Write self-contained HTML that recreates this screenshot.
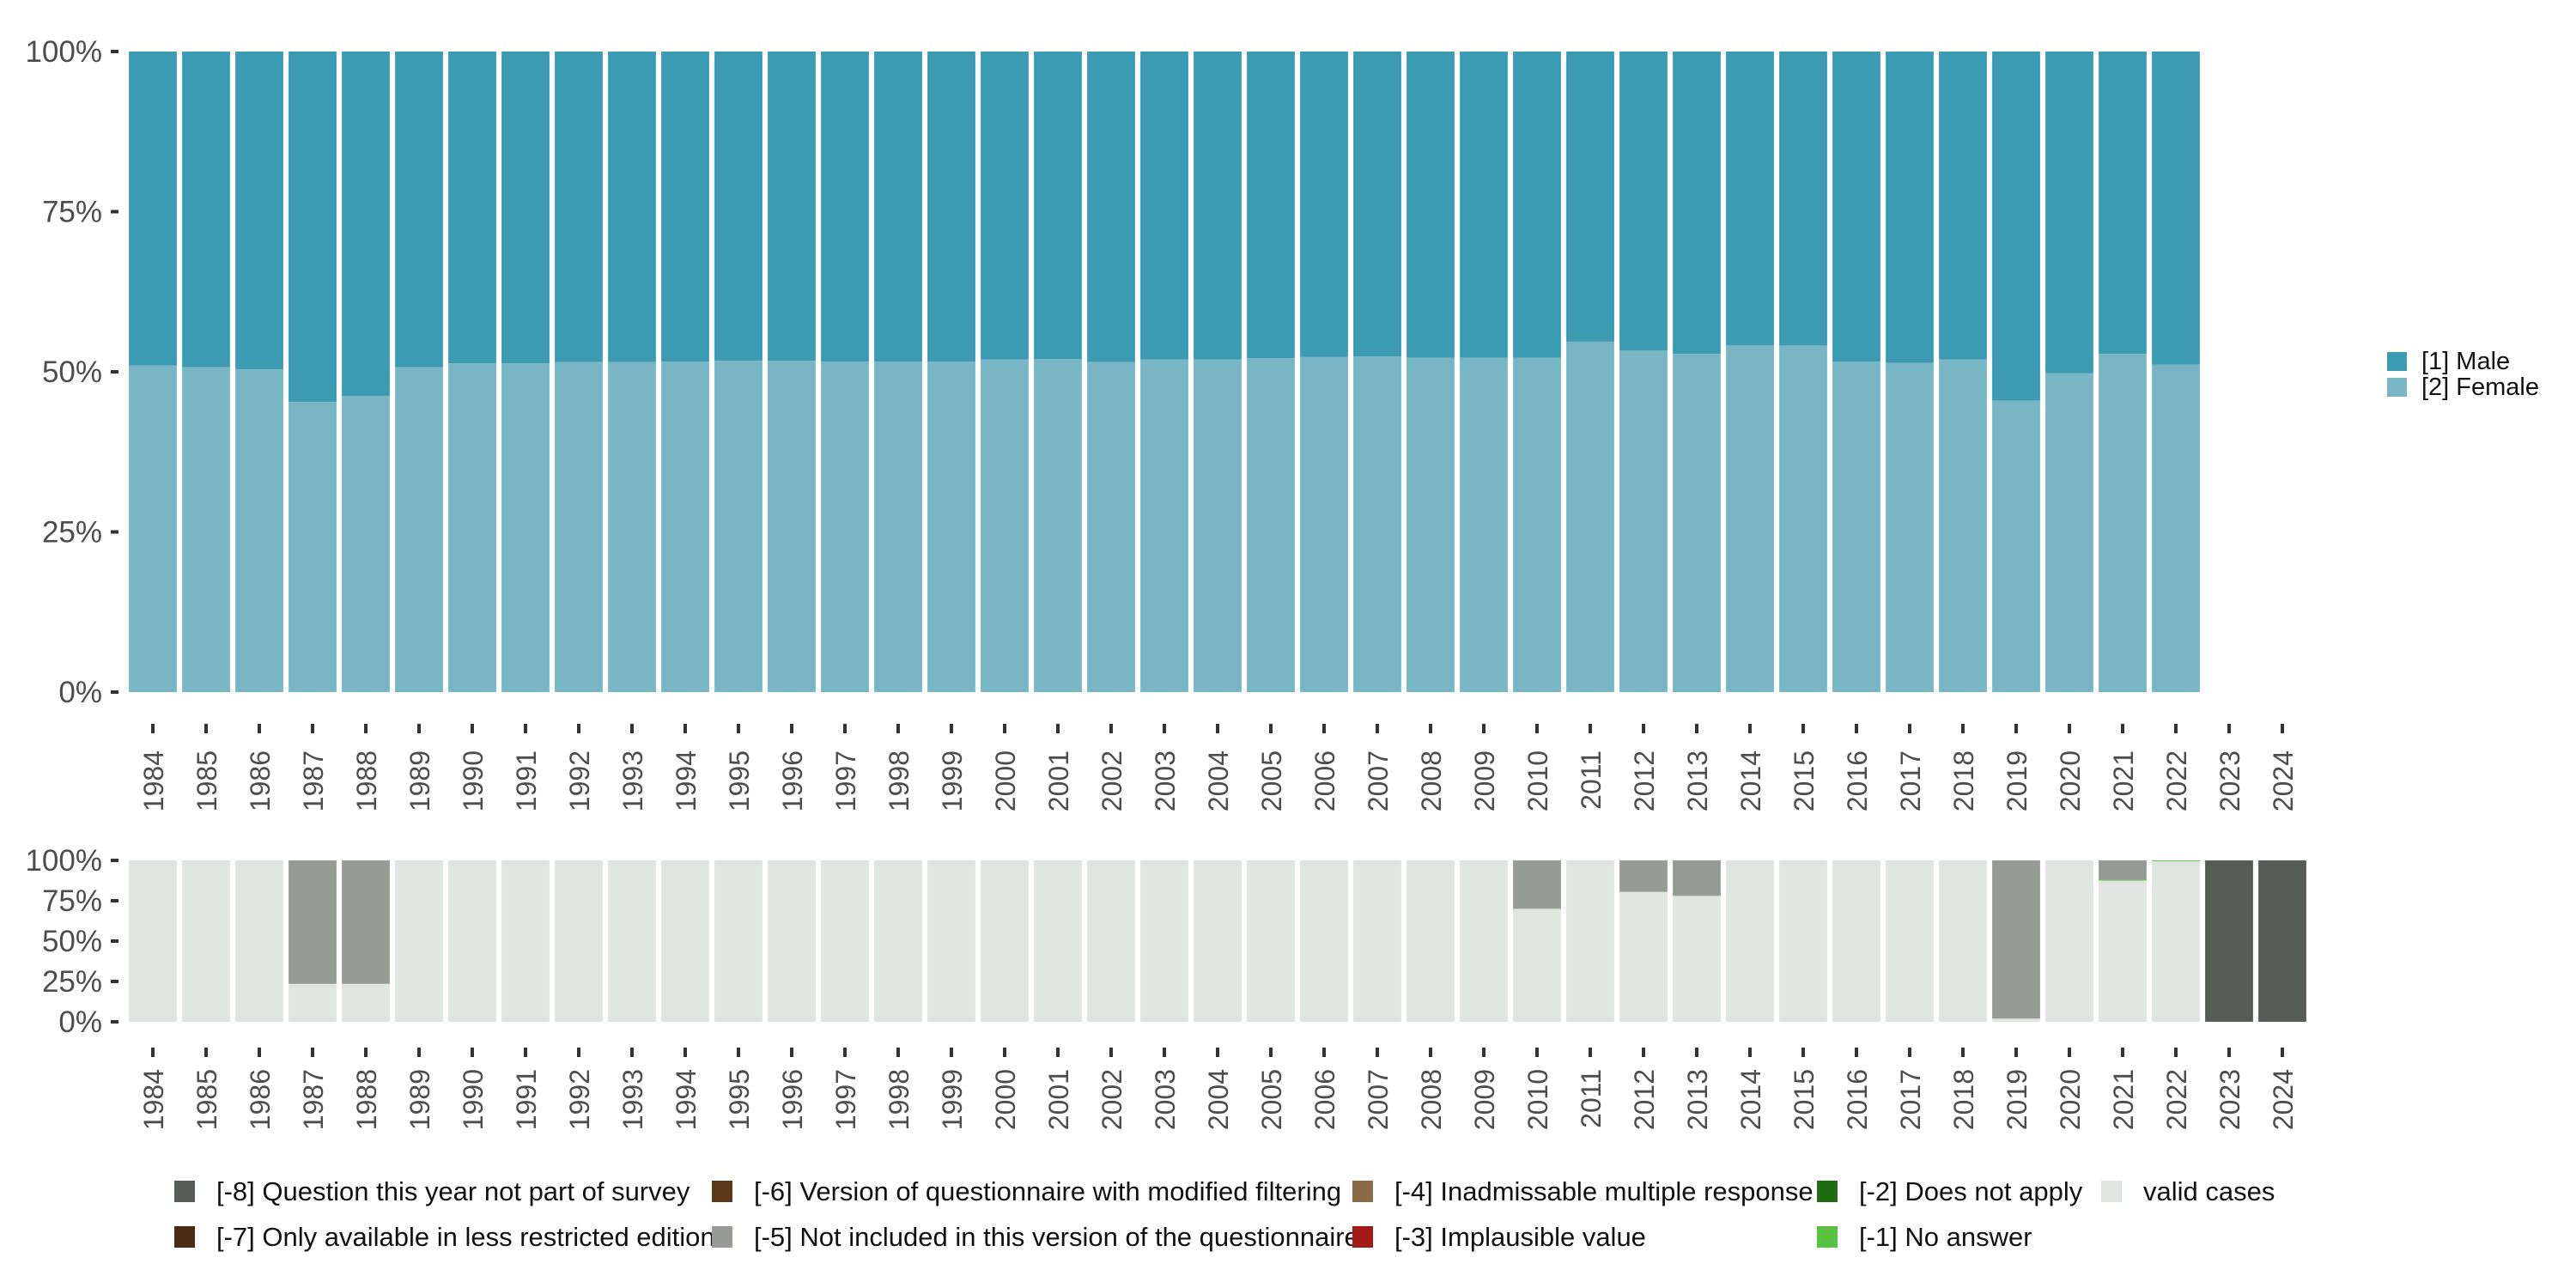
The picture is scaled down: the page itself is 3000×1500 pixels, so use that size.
<!DOCTYPE html>
<html><head><meta charset="utf-8"><style>
html,body{margin:0;padding:0;background:#fff}
svg{display:block}
text{font-family:"Liberation Sans","DejaVu Sans",sans-serif}
</style></head><body>
<svg id="chart" width="3000" height="1500" viewBox="0 0 3000 1500" xmlns="http://www.w3.org/2000/svg">
<g id="topPanel"></g>
<g id="botPanel"></g>
<g id="legPanel"></g>
</svg>
<script>
const years = [1984,1985,1986,1987,1988,1989,1990,1991,1992,1993,1994,1995,1996,1997,1998,1999,2000,2001,2002,2003,2004,2005,2006,2007,2008,2009,2010,2011,2012,2013,2014,2015,2016,2017,2018,2019,2020,2021,2022,2023,2024];
const femaleShare = [51,50.7,50.4,45.3,46.2,50.7,51.3,51.3,51.5,51.5,51.6,51.7,51.7,51.6,51.6,51.6,51.9,52,51.5,51.9,51.9,52.1,52.3,52.4,52.2,52.2,52.2,54.7,53.3,52.8,54.1,54.1,51.6,51.4,51.9,45.5,49.8,52.8,51.1,null,null];
const validShare = [100,100,100,23.5,23.5,100,100,100,100,100,100,100,100,100,100,100,100,100,100,100,100,100,100,100,100,100,70,100,80.5,78,100,100,100,100,100,2,100,87.5,99.5,0,0];
const noAnswerShare = [0,0,0,0,0,0,0,0,0,0,0,0,0,0,0,0,0,0,0,0,0,0,0,0,0,0,0,0,0,0,0,0,0,0,0,0,0,0.5,0.5,0,0];
const notIncludedShare = [0,0,0,76.5,76.5,0,0,0,0,0,0,0,0,0,0,0,0,0,0,0,0,0,0,0,0,0,30,0,19.5,22,0,0,0,0,0,98,0,12,0,0,0];
const notPartShare = [0,0,0,0,0,0,0,0,0,0,0,0,0,0,0,0,0,0,0,0,0,0,0,0,0,0,0,0,0,0,0,0,0,0,0,0,0,0,0,100,100];
const yTicks = [0,25,50,75,100];
const yTickLabels = ["0%","25%","50%","75%","100%"];

const NS="http://www.w3.org/2000/svg";
function mk(tag,attrs,parent){const e=document.createElementNS(NS,tag);for(const k in attrs)e.setAttribute(k,attrs[k]);parent.appendChild(e);return e;}
const pitch=62.0, bw=55.8;
function xc(i){return 178+i*pitch;}
function yTop(v){return 806-v*7.46;}
function yBot(v){return 1190-v*1.88;}
const topG=document.getElementById('topPanel'), botG=document.getElementById('botPanel'), legG=document.getElementById('legPanel');

function axes(g,yf,labY,tickY,name){
  yTicks.forEach((t,k)=>{
    const tk=mk('rect',{x:129,y:yf(t)-2,width:9,height:4,fill:'#333'},g);
    
    
    const tx=mk('text',{x:119,y:yf(t)+12,'text-anchor':'end','font-size':35,fill:'#4d4d4d'},g);
    tx.textContent=yTickLabels[k];
    
    
  });
  years.forEach((yr,i)=>{
    const tk=mk('rect',{x:xc(i)-2,y:tickY,width:4,height:11,fill:'#333'},g);
    
    
    const tx=mk('text',{transform:`translate(${xc(i)+12},${labY}) rotate(-90)`,'text-anchor':'end','font-size':32,fill:'#4d4d4d'},g);
    tx.textContent=yr;
    
    
  });
}
axes(topG,yTop,874,843,'top');
axes(botG,yBot,1245,1220,'bottom');

femaleShare.forEach((f,i)=>{
  if(f===null)return;
  const x=xc(i)-bw/2;
  const m=mk('rect',{x:x,y:yTop(100),width:bw,height:yTop(f)-yTop(100),fill:'#3d9ab3'},topG);
  
  
  const fe=mk('rect',{x:x,y:yTop(f),width:bw,height:yTop(0)-yTop(f),fill:'#79b6c5'},topG);
  
  
});

const stacks=[[validShare,'#e1e5e1','valid'],[noAnswerShare,'#5bc142','no-answer'],[notIncludedShare,'#979b95','not-included'],[notPartShare,'#565d57','not-part']];
years.forEach((yr,i)=>{
  let acc=0;const x=xc(i)-bw/2;
  stacks.forEach(s=>{
    const v=s[0][i];if(!v)return;
    const r=mk('rect',{x:x,y:yBot(acc+v),width:bw,height:yBot(acc)-yBot(acc+v),fill:s[1]},botG);
    
    
    acc+=v;
  });
});

[['[1] Male','#3d9ab3',410],['[2] Female','#79b6c5',440]].forEach(e=>{
  const r=mk('rect',{x:2780,y:e[2],width:23,height:22,fill:e[1]},legG);
  
  
  const t=mk('text',{x:2820,y:e[2]+20,'font-size':29,fill:'#111'},legG);
  t.textContent=e[0];
  
  
});
const legItems=[
 ['[-8] Question this year not part of survey','#565d57',203,1375],
 ['[-7] Only available in less restricted edition','#4a2c15',203,1428],
 ['[-6] Version of questionnaire with modified filtering','#5c3818',829,1375],
 ['[-5] Not included in this version of the questionnaire','#979b95',829,1428],
 ['[-4] Inadmissable multiple response','#8b6a48',1575,1375],
 ['[-3] Implausible value','#a31a17',1575,1428],
 ['[-2] Does not apply','#1f6b12',2116,1375],
 ['[-1] No answer','#5bc142',2116,1428],
 ['valid cases','#e1e5e1',2447,1375]];
legItems.forEach(e=>{
  const r=mk('rect',{x:e[2],y:e[3],width:24,height:25,fill:e[1]},legG);
  
  
  const t=mk('text',{x:e[2]+49,y:e[3]+23,'font-size':31,fill:'#111'},legG);
  t.textContent=e[0];
  
  
});
</script>
</body></html>
